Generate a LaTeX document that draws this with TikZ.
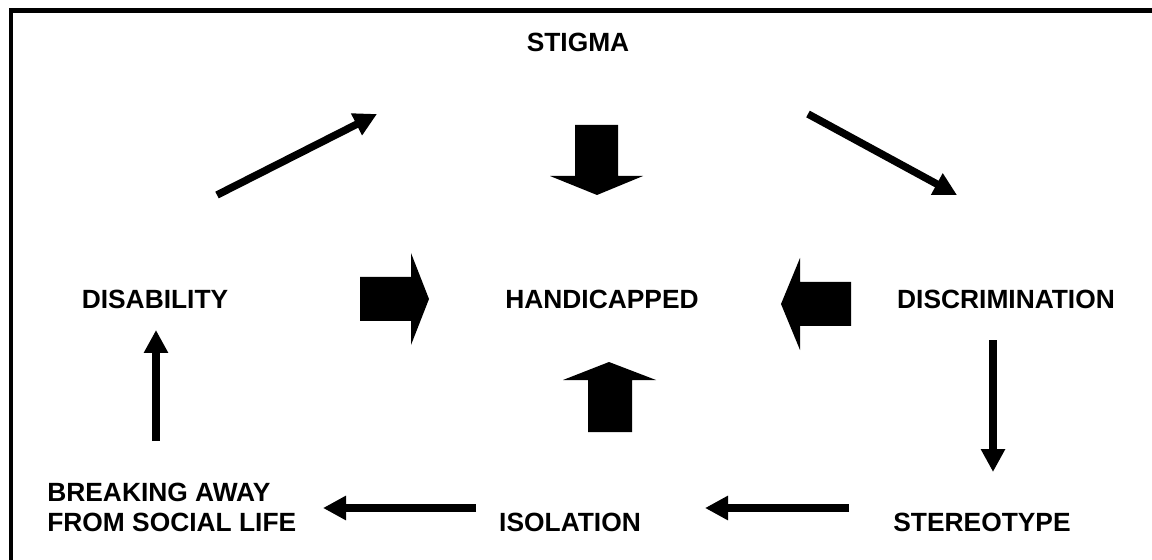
\documentclass[tikz,border=0pt]{standalone}
\usepackage{fontspec}
\setmainfont{Liberation Sans}
\usetikzlibrary{arrows.meta}

\begin{document}
\begin{tikzpicture}[x=0.02cm,y=-0.02cm,
    lbl/.style={font=\fontsize{15}{17}\selectfont\bfseries,inner sep=0pt},
    thin arrow/.style={line width=0.15cm,-{Triangle[length=0.46cm,width=0.46cm]}},
    fat arrow/.style={fill=black}]
        \clip (0,0) rectangle (1152,560);
        \draw[line width=0.1cm] (11,11) rectangle (1170,580);
        % labels
        \node[lbl] (stigma) at (578,42) {STIGMA};
        \node[lbl] (handi) at (602,299) {HANDICAPPED};
        \node[lbl] (disab) at (155,299) {DISABILITY};
        \node[lbl] (discr) at (1006,299) {DISCRIMINATION};
        \node[lbl] (stereo) at (982,522) {STEREOTYPE};
        \node[lbl] (isol) at (570,522) {ISOLATION};
        \node[lbl,align=left,anchor=west] (breaking) at (47,507) {BREAKING AWAY\\FROM SOCIAL LIFE};
        % ends of the cycle arrows
        \coordinate (c1) at (217,195); \coordinate (c2) at (377,114);
        \coordinate (c3) at (808,114); \coordinate (c4) at (957,195);
        \coordinate (c5) at (993,340); \coordinate (c6) at (993,472);
        \coordinate (c7) at (849,508); \coordinate (c8) at (705,508);
        \coordinate (c9) at (476,508); \coordinate (c10) at (323,508);
        \coordinate (c11) at (156,441); \coordinate (c12) at (156,330);
        \draw[thin arrow] (c1) -- (c2);
        \draw[thin arrow] (c3) -- (c4);
        \draw[thin arrow] (c5) -- (c6);
        \draw[thin arrow] (c7) -- (c8);
        \draw[thin arrow] (c9) -- (c10);
        \draw[thin arrow] (c11) -- (c12);
        % block arrows into handicapped
        \fill[fat arrow] (575,125) -- (618,125) -- (618,176) -- (643,176) -- (597,195) -- (550,176) -- (575,176) -- cycle;
        \fill[fat arrow] (360,277) -- (411,277) -- (411,253) -- (429,299) -- (411,345) -- (411,321) -- (360,321) -- cycle;
        \fill[fat arrow] (851,282) -- (800,282) -- (800,258) -- (781,304) -- (800,350) -- (800,326) -- (851,326) -- cycle;
        \fill[fat arrow] (588,432) -- (632,432) -- (632,380) -- (656,380) -- (609,362) -- (563,380) -- (588,380) -- cycle;
      \end{tikzpicture}
\end{document}
